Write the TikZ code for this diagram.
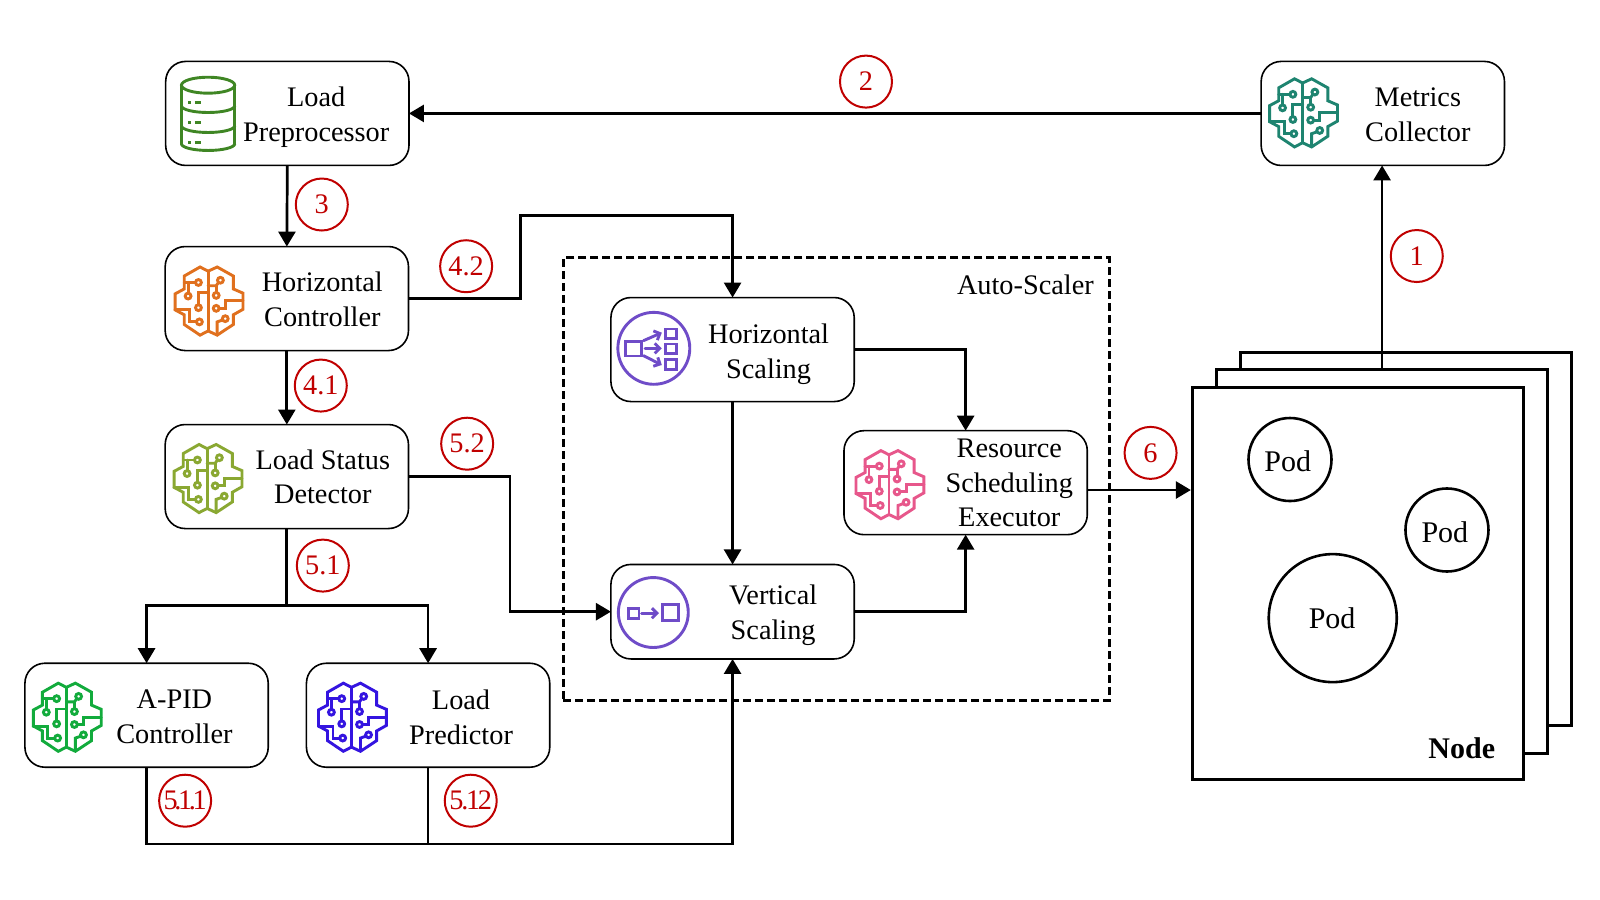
\documentclass[tikz,border=0pt]{standalone}
\usepackage{fontspec}
\setmainfont{Liberation Serif}
\usetikzlibrary{arrows.meta}
\definecolor{cOrange}{HTML}{E0701E}
\definecolor{cTeal}{HTML}{1E8470}
\definecolor{cLime}{HTML}{8AA832}
\definecolor{cPink}{HTML}{E7578B}
\definecolor{cGreen}{HTML}{12AB3C}
\definecolor{cBlue}{HTML}{3414E0}
\definecolor{cPurple}{HTML}{6F4CC8}
\definecolor{cDb}{HTML}{3F8624}
\definecolor{cBadge}{HTML}{C00000}
\tikzset{
  box/.style={draw=black,fill=white,line width=1.6pt,rounded corners=20pt,minimum width=243.3pt,minimum height=104pt,inner sep=0pt,outer sep=0pt},
  lbl/.style={align=center,inner sep=0pt,font=\fontsize{28.3}{34.7}\selectfont},
  badge/.style={draw=cBadge,line width=2pt,circle,minimum size=52pt,inner sep=0pt,text=cBadge,font=\fontsize{28.3}{34}\selectfont},
  conn/.style={line width=2.7pt,draw=black,-{Triangle[length=15pt,width=17pt]}},
  plainconn/.style={line width=2.7pt,draw=black},
  card/.style={draw=black,fill=white,line width=2.8pt,minimum width=331pt,inner sep=0pt,outer sep=0pt},
  pod/.style={draw=black,fill=white,line width=2.6pt,circle,inner sep=0pt},
  podtext/.style={inner sep=0pt,font=\fontsize{30}{34}\selectfont},
  icon/.style={x=.333pt,y=-.333pt,line width=2.9pt,line cap=round,line join=miter},
}
\newcommand{\brainicon}[3]{%
\begin{scope}[shift={(#1,#2)},icon,draw=#3,scale=.97]
\begin{scope}[shift={(-125,-122)}]
\draw (97,17)--(48,45)--(48,85)--(20,100)--(20,150)--(48,165)--(48,195)--(97,228)--(122,215)--(150,228)--(200,195)--(200,165)--(230,148)--(230,98)--(200,85)--(200,45)--(150,17)--(122,30)--cycle;
\draw (122,30)--(122,215);
\draw (92,65) circle[radius=9];
\draw (60,107) circle[radius=9];
\draw (92,143) circle[radius=9];
\draw (95,187) circle[radius=9];
\draw (160,58) circle[radius=9];
\draw (147,105) circle[radius=9];
\draw (147,145) circle[radius=9];
\draw (175,177) circle[radius=9];
\draw (48,65)--(83,65);
\draw (60,65)--(60,98);
\draw (92,134)--(92,97)--(122,97);
\draw (20,150)--(65,150)--(65,187)--(86,187);
\draw (154,65)--(147,75)--(122,75);
\draw (147,75)--(147,96);
\draw (156,145)--(175,145)--(175,122)--(230,122);
\draw (167,181)--(150,187)--(150,225);
\end{scope}
\end{scope}}
\begin{document}
\begin{tikzpicture}[x=1.02pt,y=-1.02pt]
\path[use as bounding box,fill=white] (0,0) rectangle (1568.63,882.35);

% auto-scaler frame
\node[draw=black,line width=3pt,dash pattern=on 8pt off 4pt,minimum width=546pt,minimum height=443pt,inner sep=0pt] (frame) at (820,470) {};
\node[lbl,anchor=east] (frametext) at (1072.5,279) {Auto-Scaler};

% worker node stack
\node[card,minimum height=372.5pt] (back) at (1378.3,528.4) {};
\node[card,minimum height=384.1pt] (mid) at (1354.8,550.4) {};
\coordinate (midtop) at (1355,361.8);
\node[card,minimum height=392.5pt] (front) at (1331,572) {};
\node[pod,minimum size=83pt] (p1) at (1264.7,450.5) {};
\node[pod,minimum size=83pt] (p2) at (1418.6,519.6) {};
\node[pod,minimum size=128pt] (p3) at (1306.6,606) {};
\node[podtext] (p1t) at (1262.5,452.5) {Pod};
\node[podtext] (p2t) at (1416.5,521.5) {Pod};
\node[podtext] (p3t) at (1306,606.5) {Pod};
\node[podtext,anchor=east,font=\fontsize{30}{34}\selectfont\bfseries] (nodetext) at (1466,733.5) {Node};

% boxes
\node[box] (lp) at (281.7,111.2) {};
\node[box] (mc) at (1355.7,111.2) {};
\node[box] (hc) at (281.2,292.7) {};
\node[box] (ls) at (281.2,467.2) {};
\node[box] (ap) at (143.7,701.2) {};
\node[box] (lf) at (419.7,701.2) {};
\node[box] (hs) at (718.2,342.7) {};
\node[box,minimum height=94.5pt] (vs) at (718.2,599.7) {};
\node[box] (re) at (946.7,473.2) {};

% box texts
\node[lbl] (lpt) at (310,115) {Load\\Preprocessor};
\node[lbl] (mct) at (1390,112.5) {Metrics\\Collector};
\node[lbl] (hct) at (316,293.5) {Horizontal\\Controller};
\node[lbl] (lst) at (316.5,467.5) {Load Status\\Detector};
\node[lbl] (apt) at (171,702.5) {A-PID\\Controller};
\node[lbl] (lft) at (452,703) {Load\\Predictor};
\node[lbl] (hst) at (753.5,347) {Horizontal\\Scaling};
\node[lbl] (vst) at (758,603.5) {Vertical\\Scaling};
\node[lbl] (ret) at (989.5,473.5) {Resource\\Scheduling\\Executor};

% icons
\begin{scope}[shift={(204,111.6)},icon,draw=cDb]
\begin{scope}[shift={(-100,-124)}]
\draw (100,38) ellipse[x radius=80,y radius=24];
\draw (20,38)--(20,214);
\draw (180,38)--(180,214);
\draw (20,100) arc[start angle=180,end angle=360,x radius=80,y radius=-20];
\draw (20,160) arc[start angle=180,end angle=360,x radius=80,y radius=-20];
\draw (20,214) arc[start angle=180,end angle=360,x radius=80,y radius=-20];
\foreach \yy in {90,150,210}{
  \draw[line cap=butt,line width=3.4pt] (40,\yy)--(50,\yy);
  \draw[line cap=butt,line width=3.4pt] (60,\yy)--(80,\yy);
}
\end{scope}
\end{scope}
\brainicon{1278}{110.5}{cTeal}
\brainicon{205}{295}{cOrange}
\brainicon{204}{469}{cLime}
\brainicon{66}{703}{cGreen}
\brainicon{345.5}{703}{cBlue}
\brainicon{872.5}{475}{cPink}
\begin{scope}[shift={(641,341.5)},icon,draw=cPurple]
\draw (0,0) circle[radius=108];
\draw (-86,-20) rectangle (-36,23);
\draw (36,-58) rectangle (67,-30);
\draw (36,-13) rectangle (67,15);
\draw (36,33) rectangle (67,63);
\draw[-{Straight Barb[length=5pt,width=10pt]}] (-31,-23)--(24,-47);
\draw[-{Straight Barb[length=5pt,width=10pt]}] (-26,0)--(24,0);
\draw[-{Straight Barb[length=5pt,width=10pt]}] (-31,22)--(24,50);
\end{scope}
\begin{scope}[shift={(640.5,600.5)},icon,draw=cPurple]
\draw (0,0) circle[radius=105];
\draw (-75,-13) rectangle (-43,17);
\draw (27,-23) rectangle (75,24);
\draw[-{Straight Barb[length=5pt,width=10pt]}] (-35,2)--(17,2);
\end{scope}

% connectors
\draw[conn] (mc.west)--(lp.east);
\draw[conn] (lp.south)--(hc.north);
\draw[conn] (hc.south)--(ls.north);
\draw[conn] (hc.east)--(510,292.7)--(510,211)-|(hs.north);
\coordinate (split) at (281.2,593.5);
\draw[plainconn] (ls.south)--(split);
\draw[conn] (split)-|(ap.north);
\draw[conn] (split)-|(lf.north);
\draw[conn] (ls.east)--(500,467.2)|-(vs.west);
\coordinate (bus) at (419.7,827.5);
\draw[plainconn] (ap.south)|-(bus);
\draw[plainconn] (lf.south)--(bus);
\draw[conn] (bus)-|(vs.south);
\draw[conn] (hs.south)--(vs.north);
\draw[conn] (hs.east)-|(re.north);
\draw[conn] (vs.east)-|(re.south);
\coordinate (reout) at (1066,480.4);
\coordinate (frontin) at (1167.5,480.4);
\draw[conn] (reout)--(frontin);
\draw[conn] (midtop)--(midtop|-mc.south);

% badges
\node[badge] (b2) at (849,80) {2};
\node[badge] (b3) at (315.5,200.5) {3};
\node[badge] (b42) at (457,261) {4.2};
\node[badge] (b41) at (314.5,378) {4.1};
\node[badge] (b52) at (458,435) {5.2};
\node[badge] (b51) at (316.5,554.5) {5.1};
\node[badge] (b1) at (1389,251) {1};
\node[badge] (b6) at (1128,444) {6};
\node[badge] (b511) at (181.5,785) {\addfontfeature{LetterSpace=-12}5.1.1};
\node[badge] (b512) at (461.5,785) {\addfontfeature{LetterSpace=-8}5.12};
\end{tikzpicture}
\end{document}
